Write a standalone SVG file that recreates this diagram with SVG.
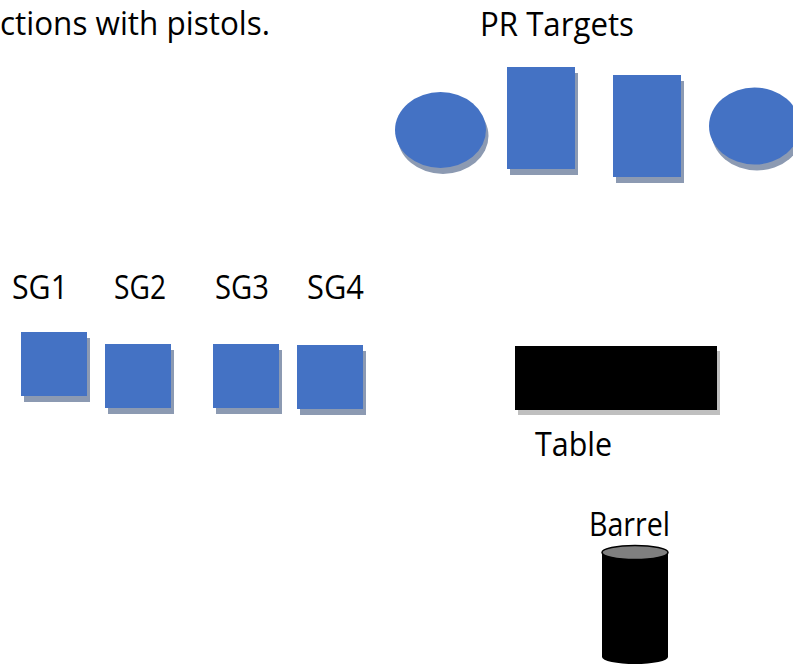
<svg xmlns="http://www.w3.org/2000/svg" width="793" height="666" viewBox="0 0 793 666">
<style>
.t{font-family:"Open Sans","Liberation Sans",Arial,sans-serif;font-size:32px;fill:#000}
.b{fill:#4472c4}
.s{fill:#8c9ab2}
.k{fill:#000}
.ks{fill:#bfbfbf}
</style>
<rect width="793" height="666" fill="#fff"/>
<text class="t" x="0" y="35" textLength="270" lengthAdjust="spacingAndGlyphs">ctions with pistols.</text>
<g id="pr-targets-label"><text class="t" x="480" y="36" textLength="154" lengthAdjust="spacingAndGlyphs">PR Targets</text></g>
<g id="target1"><ellipse class="s" cx="443" cy="136" rx="45.5" ry="38"/><ellipse class="b" cx="440.5" cy="130" rx="45.5" ry="38"/></g>
<g id="target2"><rect class="s" x="510" y="73" width="68" height="102"/><rect class="b" x="507" y="67" width="68" height="102"/></g>
<g id="target3"><rect class="s" x="616" y="81" width="68" height="102"/><rect class="b" x="613" y="75" width="68" height="102"/></g>
<g id="target4"><ellipse class="s" cx="757" cy="132" rx="45.5" ry="38.5"/><ellipse class="b" cx="754.5" cy="126" rx="45.5" ry="38.5"/></g>
<g id="sg1"><text class="t" x="12" y="299" textLength="56" lengthAdjust="spacingAndGlyphs">SG1</text><rect class="s" x="24" y="338" width="66" height="64"/><rect class="b" x="21" y="332" width="66" height="64"/></g>
<g id="sg2"><text class="t" x="114" y="299" textLength="52" lengthAdjust="spacingAndGlyphs">SG2</text><rect class="s" x="108" y="350" width="66" height="64"/><rect class="b" x="105" y="344" width="66" height="64"/></g>
<g id="sg3"><text class="t" x="215" y="299" textLength="54" lengthAdjust="spacingAndGlyphs">SG3</text><rect class="s" x="216" y="350" width="66" height="64"/><rect class="b" x="213" y="344" width="66" height="64"/></g>
<g id="sg4"><text class="t" x="307" y="299" textLength="57" lengthAdjust="spacingAndGlyphs">SG4</text><rect class="s" x="300" y="351" width="66" height="64"/><rect class="b" x="297" y="345" width="66" height="64"/></g>
<g id="table"><rect class="ks" x="518" y="351" width="202" height="64"/><rect class="k" x="515" y="346" width="202" height="64"/><text class="t" x="535" y="456" textLength="77" lengthAdjust="spacingAndGlyphs">Table</text></g>
<g id="barrel"><text class="t" x="589" y="536" textLength="81" lengthAdjust="spacingAndGlyphs">Barrel</text><path class="k" d="M602,552.5 V657 A33,7 0 0 0 668,657 V552.5 Z"/><ellipse cx="635" cy="552.5" rx="33" ry="7" fill="#7f7f7f" stroke="#000" stroke-width="1.5"/></g>
</svg>
